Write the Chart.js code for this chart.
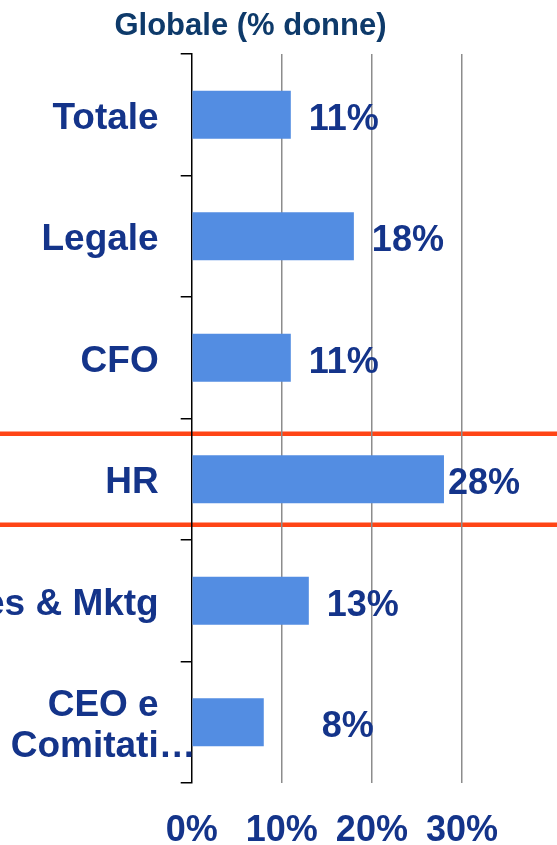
<!DOCTYPE html>
<html>
<head>
<meta charset="utf-8">
<script src="https://cdn.jsdelivr.net/npm/chart.js@4"></script>
<style>
  html, body { margin: 0; padding: 0; background: #fff; }
  #wrap { width: 557px; height: 845px; }
</style>
</head>
<body>
<div id="wrap"><canvas id="chart"></canvas></div>
<script>
const categories = ['Totale', 'Legale', 'CFO', 'HR', 'Sales & Mktg', ['CEO e', 'Comitati…']]
const values = [11, 18, 11, 28, 13, 8]
const xTicks = [0, 10, 20, 30]

const navy = '#14348A'
const fontFamily = "'Liberation Sans', Arial, sans-serif"

// labels with the %; some of them sit further from the bar
const valueLabels = {
  id: 'valueLabels',
  afterDatasetsDraw(chart, args, opts) {
    const ctx = chart.ctx
    const meta = chart.getDatasetMeta(0)
    ctx.save()
    ctx.font = 'bold 36px ' + fontFamily
    ctx.fillStyle = navy
    ctx.textAlign = 'left'
    ctx.textBaseline = 'middle'
    meta.data.forEach((bar, i) => {
      ctx.fillText(values[i] + '%', bar.x + opts.gaps[i], bar.y + 5)
    })
    ctx.restore()
  }
}

// red band around the HR row
const highlight = {
  id: 'highlight',
  beforeDraw(chart, args, opts) {
    const y = chart.scales.y
    const row = (y.bottom - y.top) / categories.length
    const c = y.getPixelForValue(opts.index)
    const ctx = chart.ctx
    ctx.save()
    ctx.strokeStyle = '#FF4516'
    ctx.lineWidth = 4.5
    ;[c - row * 0.375, c + row * 0.375].forEach(py => {
      ctx.beginPath()
      ctx.moveTo(0, py)
      ctx.lineTo(chart.width, py)
      ctx.stroke()
    })
    ctx.restore()
  }
}

// the truncated "Comitati…" line runs past the others up to the axis,
// so every other line gets an em space at its end
const padLine = s => s.endsWith('…') ? s : s + '\u2003'

new Chart(document.getElementById('chart'), {
  type: 'bar',
  data: {
    labels: categories,
    datasets: [{
      data: values,
      backgroundColor: '#538DE2',
      borderWidth: 0,
      categoryPercentage: 1,
      barPercentage: 0.395
    }]
  },
  options: {
    indexAxis: 'y',
    responsive: true,
    maintainAspectRatio: false,
    animation: false,
    layout: { padding: { left: 0, right: 56, top: 0, bottom: 0 } },
    plugins: {
      legend: { display: false },
      tooltip: { enabled: false },
      title: {
        display: true,
        text: 'Globale (% donne)',
        color: '#0E3A6A',
        font: { family: fontFamily, size: 31, weight: 'bold', lineHeight: 1.2 },
        padding: { top: 8, bottom: 8.8 }
      },
      valueLabels: { gaps: [18, 18, 18, 4, 18, 58] },
      highlight: { index: 3 }
    },
    scales: {
      x: {
        min: 0,
        max: 34.33,
        afterFit(scale) { scale.height = 62 },
        afterBuildTicks(scale) { scale.ticks = xTicks.map(v => ({ value: v })) },
        grid: {
          color: ctx => ctx.index === 0 ? 'rgba(0,0,0,0)' : '#8C8C8C',
          lineWidth: 1.5,
          drawTicks: false
        },
        border: { display: false },
        ticks: {
          includeBounds: false,
          padding: 26,
          color: navy,
          font: { family: fontFamily, size: 36, weight: 'bold' },
          callback: v => v + '%'
        }
      },
      y: {
        afterFit(scale) {
          scale.width = 191.7
          scale.paddingTop = 0
          scale.paddingBottom = 0
        },
        grid: {
          offset: true,
          drawOnChartArea: false,
          drawTicks: true,
          tickLength: 11,
          color: '#000',
          lineWidth: 1.5
        },
        border: { display: true, color: '#000', width: 1.5 },
        ticks: {
          padding: -15,
          labelOffset: 4,
          color: navy,
          font: { family: fontFamily, size: 37, weight: 'bold', lineHeight: 1.12 },
          callback: function (v) {
            const label = this.getLabelForValue(v)
            return Array.isArray(label) ? label.map(padLine) : padLine(label)
          }
        }
      }
    }
  },
  plugins: [valueLabels, highlight]
})
</script>
</body>
</html>
